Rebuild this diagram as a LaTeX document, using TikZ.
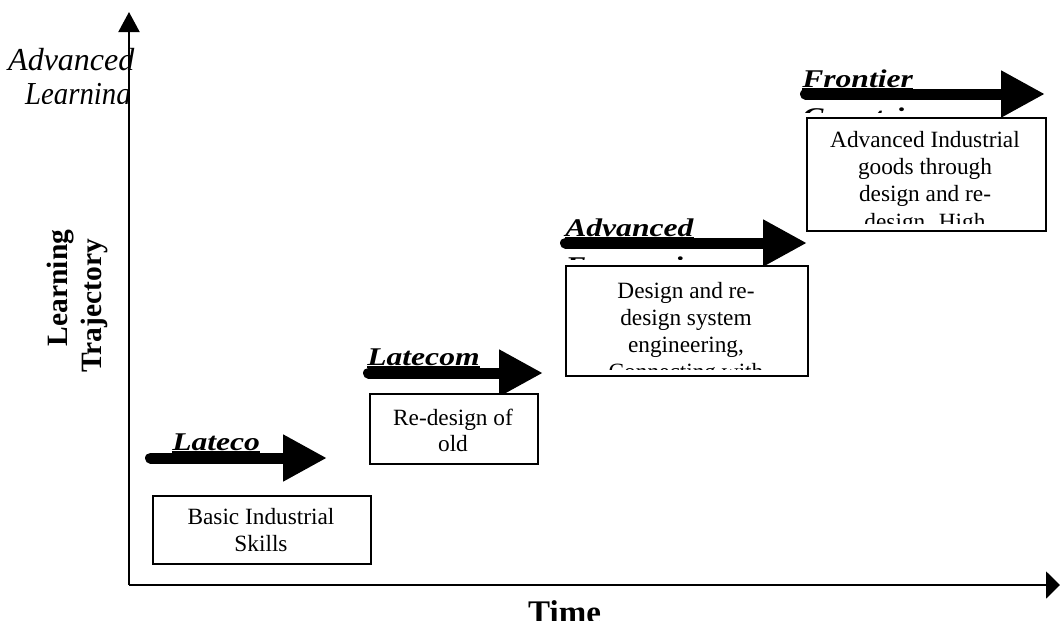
\documentclass[tikz,border=0pt]{standalone}
\usepackage{fontspec}
\setmainfont{Liberation Serif}
\usetikzlibrary{arrows.meta}
\begin{document}
\begin{tikzpicture}[x=1pt,y=-1pt,
  axisline/.style={line width=2pt},
  stagebox/.style={draw, line width=1.5pt, fill=white, inner sep=0pt, anchor=north west},
  btxt/.style={font=\fontsize{23.3}{27}\selectfont, anchor=base, inner sep=0pt},
  lbl/.style={font=\fontsize{25.5}{30}\selectfont\bfseries\itshape, anchor=base west, inner sep=0pt, xscale=1.24},
  uline/.style={line width=1.5pt},
  shaft/.style={line width=11pt, line cap=round, -{Triangle[length=44pt,width=44pt]}},
  axlbl/.style={font=\fontsize{29.5}{33}\selectfont\bfseries, inner sep=0pt},
  itlbl/.style={font=\fontsize{32}{36}\selectfont\itshape, anchor=base west, inner sep=0pt}
]
\useasboundingbox (0,0) rectangle (1060,621);

% axes
\coordinate (o) at (129,585);
\coordinate (ytop) at (129,12);
\coordinate (xend) at (1060,585);
\draw[axisline, -{Triangle[length=20pt,width=21pt]}] (o) -- (ytop);
\draw[axisline, -{Triangle[length=14pt,width=27pt]}] (o) -- (xend);

% axis labels
\node[font=\fontsize{33}{36}\selectfont\bfseries, inner sep=0pt, anchor=base west] (time) at (528,623) {Time};
\node[axlbl, rotate=90, anchor=base] (lt1) at (67,288) {Learning};
\node[axlbl, rotate=90, anchor=base] (lt2) at (101,306) {Trajectory};
\node[itlbl] (al1) at (8,70) {Advanced};
\begin{scope}
  \clip (0,75) rectangle (131,103.5);
  \node[itlbl, xscale=0.9] (al2) at (25,104) {Learning};
\end{scope}

% stage 1
\node[lbl] (l1) at (172,450) {Lateco};
\draw[uline] ([yshift=-2pt]l1.base west) -- ([yshift=-2pt]l1.base east);
\coordinate (a1s) at (150.5,458);
\coordinate (a1e) at (327,458);
\draw[shaft] (a1s) -- (a1e);
\node[stagebox, minimum width=218pt, minimum height=68pt] (b1) at (152,495) {};
\node[btxt] (b1t1) at (261,524) {Basic Industrial};
\node[btxt] (b1t2) at (261,551) {Skills};

% stage 2
\node[lbl] (l2) at (367,365) {Latecom};
\draw[uline] ([yshift=-2pt]l2.base west) -- ([yshift=-2pt]l2.base east);
\coordinate (a2s) at (368.5,373);
\coordinate (a2e) at (543,373);
\draw[shaft] (a2s) -- (a2e);
\node[stagebox, minimum width=168pt, minimum height=70pt] (b2) at (369,393) {};
\node[btxt] (b2t1) at (453,425) {Re-design of};
\node[btxt] (b2t2) at (453,451) {old};

% stage 3
\node[lbl] (l3) at (565,236) {Advanced};
\draw[uline] ([yshift=-2pt]l3.base west) -- ([yshift=-2pt]l3.base east);
\begin{scope}
  \clip (550,255.5) rectangle (760,259);
  \node[lbl] (l3b) at (565,274) {Economies};
\end{scope}
\coordinate (a3s) at (565.5,243);
\coordinate (a3e) at (807,243);
\draw[shaft] (a3s) -- (a3e);
\node[stagebox, minimum width=242pt, minimum height=110pt] (b3) at (565,265) {};
\node[btxt] (b3t1) at (686,298) {Design and re-};
\node[btxt] (b3t2) at (686,325) {design system};
\node[btxt] (b3t3) at (686,352) {engineering,};
\begin{scope}
  \clip (566,355) rectangle (806,369);
  \node[btxt] (b3t4) at (686,379) {Connecting with};
\end{scope}

% stage 4
\node[lbl] (l4) at (802,87) {Frontier};
\draw[uline] ([yshift=-2pt]l4.base west) -- ([yshift=-2pt]l4.base east);
\begin{scope}
  \clip (790,105) rectangle (1000,112);
  \node[lbl] (l4b) at (802,125) {Countries};
\end{scope}
\coordinate (a4s) at (805.5,94);
\coordinate (a4e) at (1045,94);
\draw[shaft] (a4s) -- (a4e);
\node[stagebox, minimum width=239pt, minimum height=113pt] (b4) at (806,117) {};
\node[btxt] (b4t1) at (925,147) {Advanced Industrial};
\node[btxt] (b4t2) at (925,174) {goods through};
\node[btxt] (b4t3) at (925,201) {design and re-};
\begin{scope}
  \clip (807,205) rectangle (1044,223);
  \node[btxt] (b4t4) at (925,229) {design. High};
\end{scope}
\end{tikzpicture}
\end{document}
